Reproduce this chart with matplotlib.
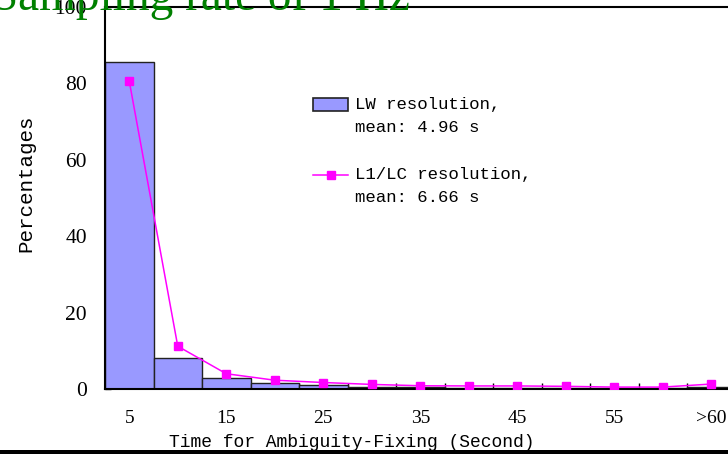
import matplotlib
matplotlib.use('Agg')
import matplotlib.pyplot as plt
from matplotlib.patches import Rectangle
from matplotlib.lines import Line2D

# time bins (s) and percentages
categories = ['5', '10', '15', '20', '25', '30', '35', '40', '45', '50', '55', '60', '>60']
lw_pct = [85.5, 8.1, 3.0, 1.6, 1.1, 0.6, 0.4, 0.35, 0.35, 0.3, 0.3, 0.3, 0.6]
l1lc_pct = [80.6, 11.2, 4.0, 2.3, 1.7, 1.2, 0.85, 0.8, 0.8, 0.7, 0.5, 0.5, 1.3]
y_ticks = [0, 20, 40, 60, 80, 100]

title = 'Sampling rate of 1 Hz'
lw_label = 'LW resolution,\nmean: 4.96 s'
l1lc_label = 'L1/LC resolution,\nmean: 6.66 s'
xlabel = 'Time for Ambiguity-Fixing (Second)'
ylabel = 'Percentages'

bar_color = '#9999ff'
line_color = '#ff00ff'
mono = 'Liberation Mono'
serif = 'Liberation Serif'

W, H = 728, 454
fig = plt.figure(figsize=(W / 100, H / 100), dpi=100)
# axes runs past the right edge of the figure, like the original screenshot
ax = fig.add_axes([105 / W, (H - 389) / H, 630.5 / W, 382 / H])

x = list(range(len(categories)))
ax.bar(x, lw_pct, width=1.0, color=bar_color, edgecolor='#222222', linewidth=1.0, zorder=2)
ax.plot(x, l1lc_pct, color=line_color, lw=1.1, marker='s', ms=6, zorder=3)

ax.set_xlim(-0.5, len(categories) - 0.5)
ax.set_ylim(0, 100)
ax.set_yticks(y_ticks)
ax.set_xticks(x[::2])
ax.set_xticklabels(categories[::2], fontfamily=serif, fontsize=14)
ax.set_xticks([i + 0.5 for i in x], minor=True)
ax.tick_params(axis='x', which='major', length=0, pad=15)
ax.tick_params(axis='x', which='minor', direction='in', length=4, width=1)
ax.tick_params(axis='y', direction='in', length=4.5, width=1, pad=13, labelsize=15.5)
for lab in ax.get_yticklabels():
    lab.set_fontfamily(serif)
for sp in ax.spines.values():
    sp.set_linewidth(1.5)

ax.set_xlabel(xlabel, fontfamily=mono, fontsize=13)
ax.xaxis.set_label_coords((352 - 105) / 630.5, (389 - 434) / 382)
ax.set_ylabel(ylabel, fontfamily=mono, fontsize=15)
ax.yaxis.set_label_coords((35 - 105) / 630.5, (389 - 183) / 382)

# hand-made legend
def ax_x(px):
    return (px - 105) / 630.5

def ax_y(py):
    return (389 - py) / 382

ax.add_patch(Rectangle((ax_x(313), ax_y(111)), 35 / 630.5, 13 / 382, transform=ax.transAxes,
                       facecolor=bar_color, edgecolor='#222222', linewidth=1.2, zorder=4))
ax.add_line(Line2D([ax_x(313), ax_x(330.5), ax_x(348)], [ax_y(175)] * 3, transform=ax.transAxes,
                   color=line_color, lw=1.1, marker='s', ms=6, markevery=[1], zorder=4))
for label, py in [(lw_label, 105), (l1lc_label, 175)]:
    for i, line in enumerate(label.split('\n')):
        ax.text(ax_x(355), ax_y(py + 23 * i), line, transform=ax.transAxes,
                fontfamily=mono, fontsize=12.5, va='center', ha='left')

# big green title, cut off by the top of the screenshot
fig.text(410 / W, (H - 10) / H, title, ha='right', va='baseline',
         fontfamily=serif, fontsize=34, color='#008000')

# thick black border at the bottom edge
fig.add_artist(Rectangle((0, 0), 1, 4.5 / H, transform=fig.transFigure,
                         facecolor='black', edgecolor='none', zorder=10))

fig.savefig('out.png', dpi=100)
